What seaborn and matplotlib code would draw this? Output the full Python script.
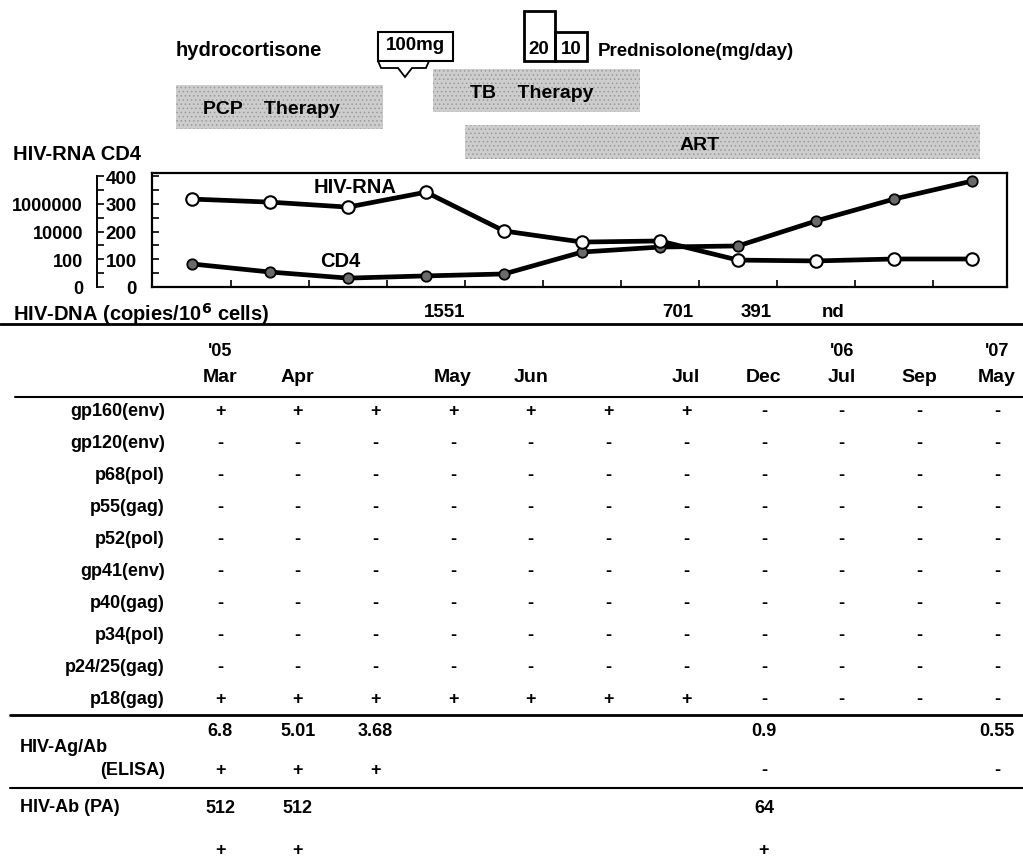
import numpy as np
import pandas as pd
import seaborn as sns
import matplotlib.pyplot as plt
from matplotlib.patches import Rectangle, Polygon
from matplotlib.ticker import MultipleLocator

sns.set_theme(style="white")
plt.rcParams["font.family"] = ["Liberation Sans", "DejaVu Sans"]
plt.rcParams["font.weight"] = "bold"
plt.rcParams["text.color"] = "black"
plt.rcParams["ytick.color"] = "black"
plt.rcParams["hatch.linewidth"] = 0.6

## --- data
visits = list(range(11))
cd4 = [83, 54, 32, 40, 47, 126, 144, 148, 238, 317, 382]
rna_log10 = [6.34, 6.12, 5.76, 6.84, 4.04, 3.24, 3.32, 1.94, 1.88, 2.02, 2.02]

dna_cols = [3, 6, 7, 8]
dna_vals = ["1551", "701", "391", "nd"]

month_cols = [0, 1, 3, 4, 6, 7, 8, 9, 10]
month_names = ["Mar", "Apr", "May", "Jun", "Jul", "Dec", "Jul", "Sep", "May"]
year_cols = [0, 8, 10]
year_names = ["'05", "'06", "'07"]

bands = ["gp160(env)", "gp120(env)", "p68(pol)", "p55(gag)", "p52(pol)",
         "gp41(env)", "p40(gag)", "p34(pol)", "p24/25(gag)", "p18(gag)"]
pos_band = ["+"] * 7 + ["-"] * 4
neg_band = ["-"] * 11
western = [pos_band, neg_band, neg_band, neg_band, neg_band,
           neg_band, neg_band, neg_band, neg_band, pos_band]

elisa_vals = ["6.8", "5.01", "3.68", "", "", "", "", "0.9", "", "", "0.55"]
elisa_sign = ["+", "+", "+", "", "", "", "", "-", "", "", "-"]
pa_vals = ["512", "512", "", "", "", "", "", "64", "", "", ""]
pa_sign = ["+", "+", "", "", "", "", "", "+", "", "", ""]
## ---

W, H = 1023, 862
fig = plt.figure(figsize=(W / 100, H / 100), dpi=100)

# full-figure canvas in pixel coordinates for the annotations and table
cv = fig.add_axes([0, 0, 1, 1])
cv.set_xlim(0, W)
cv.set_ylim(H, 0)
cv.axis("off")

FS = 13
col_x = [220 + 77.7 * i for i in range(11)]

# --- top: steroids and therapy bars
cv.text(176, 51, "hydrocortisone", fontsize=14.5, va="center", ha="left")
cv.add_patch(Rectangle((378, 33), 75, 29, fill=False, ec="black", lw=1.5))
cv.text(415, 45, "100mg", fontsize=13.5, va="center", ha="center")
cv.add_patch(Polygon([(378, 62), (381, 69), (398, 69), (405, 78), (412, 69),
                      (426, 69), (429, 62)], closed=False, fill=False, ec="black", lw=1.3))
cv.add_patch(Rectangle((524, 12), 31, 50, fill=False, ec="black", lw=2))
cv.add_patch(Rectangle((555, 33), 32, 29, fill=False, ec="black", lw=2))
cv.text(539, 49, "20", fontsize=13.5, va="center", ha="center")
cv.text(571, 49, "10", fontsize=13.5, va="center", ha="center")
cv.text(598, 51, "Prednisolone(mg/day)", fontsize=13.5, va="center", ha="left")

for x0, y0, w, h, label, tx in [(176, 86, 207, 44, "PCP    Therapy", 203),
                                 (433, 70, 207, 43, "TB    Therapy", 470),
                                 (465, 126, 515, 34, "ART", 680)]:
    cv.add_patch(Rectangle((x0, y0), w, h, fc="#cdcdcd", ec="#9a9a9a", lw=0, hatch="...."))
    cv.text(tx, y0 + h / 2 + 2, label, fontsize=14, va="center", ha="left")

cv.text(13, 155, "HIV-RNA CD4", fontsize=14.5, va="center", ha="left")

# --- HIV-DNA row
cv.text(13, 314, "HIV-DNA (copies/10$^{6}$ cells)", fontsize=14.5, va="center", ha="left")
for c, v in zip(dna_cols, dna_vals):
    cv.text(col_x[c] - 8, 313, v, fontsize=13.5, va="center", ha="center")

# --- horizontal rules
cv.plot([0, W], [325, 325], color="black", lw=2)
cv.plot([15, W], [398, 398], color="black", lw=1.5)
cv.plot([10, W], [716, 716], color="black", lw=2)
cv.plot([10, W], [789, 789], color="black", lw=1.5)

# --- header
for c, m in zip(month_cols, month_names):
    cv.text(col_x[c], 378, m, fontsize=14, va="center", ha="center")
for c, yname in zip(year_cols, year_names):
    cv.text(col_x[c], 352, yname, fontsize=13, va="center", ha="center")

# --- western blot bands
for r, (band, signs) in enumerate(zip(bands, western)):
    y = 412 + 32 * r
    cv.text(165, y, band, fontsize=FS, va="center", ha="right")
    for c, s in enumerate(signs):
        cv.text(col_x[c], y, s, fontsize=FS, va="center", ha="center")

# --- ELISA / PA
cv.text(20, 748, "HIV-Ag/Ab", fontsize=FS, va="center", ha="left")
cv.text(165, 771, "(ELISA)", fontsize=FS, va="center", ha="right")
cv.text(20, 808, "HIV-Ab (PA)", fontsize=FS, va="center", ha="left")
for c in range(11):
    cv.text(col_x[c], 732, elisa_vals[c], fontsize=FS, va="center", ha="center")
    cv.text(col_x[c], 771, elisa_sign[c], fontsize=FS, va="center", ha="center")
    cv.text(col_x[c], 809, pa_vals[c], fontsize=FS, va="center", ha="center")
    cv.text(col_x[c], 851, pa_sign[c], fontsize=FS, va="center", ha="center")

# --- line chart
left, right, top, bottom = 152, 1007, 174, 288
ax = fig.add_axes([left / W, 1 - bottom / H, (right - left) / W, (bottom - top) / H])
ax.set_facecolor("white")

df = pd.DataFrame({"visit": visits, "cd4": cd4,
                   "rna": [50 * v for v in rna_log10]})
sns.lineplot(data=df, x="visit", y="cd4", ax=ax, color="black", lw=3.4,
             marker="o", markersize=7.5, markerfacecolor="#6a6a6a",
             markeredgecolor="black", markeredgewidth=1.3)
sns.lineplot(data=df, x="visit", y="rna", ax=ax, color="black", lw=3.4,
             marker="o", markersize=9, markerfacecolor="white",
             markeredgecolor="black", markeredgewidth=1.5)

ax.set_xlim(-0.513, (right - 192) / 78)
ax.set_ylim(0, 411)
ax.set_xlabel("")
ax.set_ylabel("")
ax.set_xticks([i + 0.5 for i in range(10)])
ax.set_xticklabels([])
ax.yaxis.set_major_locator(MultipleLocator(100))
ax.yaxis.set_minor_locator(MultipleLocator(50))
ax.tick_params(axis="both", which="both", direction="in", left=True, bottom=True,
               length=5, width=1.2, color="black")
ax.tick_params(axis="y", which="major", labelsize=13.5, pad=11)
for s in ax.spines.values():
    s.set_color("black")
    s.set_linewidth(1.6)
ax.text(2.09, 364, "HIV-RNA", fontsize=14.5, ha="center", va="center")
ax.text(1.9, 94, "CD4", fontsize=14.5, ha="center", va="center")

# --- HIV-RNA (log) axis
ax2 = fig.add_axes([97 / W, 1 - bottom / H, 0.001, (bottom - top) / H])
ax2.set_facecolor("none")
ax2.set_ylim(0, 411)
ax2.set_xticks([])
for k in ["top", "right", "bottom"]:
    ax2.spines[k].set_visible(False)
ax2.spines["left"].set_bounds(0, 400)
ax2.spines["left"].set_color("black")
ax2.spines["left"].set_linewidth(1.4)
ax2.set_yticks([0, 100, 200, 300, 400])
ax2.set_yticklabels(["0", "100", "10000", "1000000", ""])
ax2.yaxis.set_minor_locator(MultipleLocator(50))
ax2.tick_params(axis="y", which="both", direction="in", length=5, width=1.2,
                color="black", left=True, labelsize=13, pad=10)

fig.savefig("out.png", dpi=100, facecolor="white")
